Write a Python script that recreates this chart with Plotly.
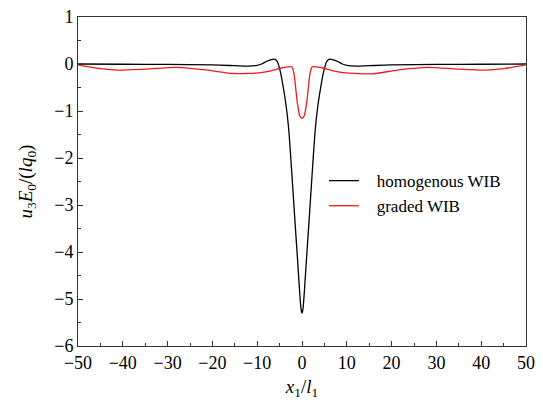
import plotly.graph_objects as go

# homogeneous WIB (black)
x_hom = [-50, -40, -30, -20, -15, -12, -10, -9, -8, -7, -6, -5.5, -5.0, -4.5, -4.0, -3.5, -3.0, -2.5,
         -2.0, -1.5, -1.0, -0.5, -0.2, 0, 0.2, 0.5, 1.0, 1.5, 2.0, 2.5, 3.0, 3.5, 4.0, 4.5, 5.0, 5.5,
         6, 7, 8, 9, 10, 12, 15, 20, 30, 40, 50]
y_hom = [0.0, -0.005, -0.01, -0.02, -0.035, -0.045, -0.03, 0.0, 0.05, 0.09, 0.10, 0.05, -0.1, -0.32,
         -0.6, -0.92, -1.35, -2.0, -2.72, -3.45, -4.15, -4.88, -5.22, -5.3, -5.22, -4.88, -4.15,
         -3.45, -2.72, -2.0, -1.35, -0.92, -0.6, -0.32, -0.1, 0.05, 0.10, 0.09, 0.05, 0.0, -0.03,
         -0.045, -0.035, -0.02, -0.01, -0.005, 0.0]

# graded WIB (red)
x_gr = [-50, -45, -41, -35, -28, -22, -15.5, -12, -8.8, -6, -4.4, -2.3, -1.8, -1.4, -1.0, -0.5, 0,
        0.5, 1.0, 1.4, 1.8, 2.3, 4.4, 6, 8.8, 12, 15.5, 22, 28, 35, 41, 45, 50]
y_gr = [-0.02, -0.1, -0.13, -0.11, -0.07, -0.12, -0.2, -0.2, -0.18, -0.12, -0.08, -0.06, -0.2,
        -0.52, -0.85, -1.1, -1.16, -1.1, -0.85, -0.52, -0.2, -0.06, -0.08, -0.12, -0.18, -0.2,
        -0.21, -0.12, -0.07, -0.11, -0.13, -0.1, -0.02]

x_ticks = [-50, -40, -30, -20, -10, 0, 10, 20, 30, 40, 50]
y_ticks = [1, 0, -1, -2, -3, -4, -5, -6]

FONT = "Times New Roman, Liberation Serif, serif"
NB = "\u00a0\u00a0\u00a0"

fig = go.Figure()
fig.add_trace(go.Scatter(x=x_hom, y=y_hom, mode="lines", name=NB + "homogenous WIB",
                         line=dict(color="black", width=1.3, shape="spline", smoothing=0.8)))
fig.add_trace(go.Scatter(x=x_gr, y=y_gr, mode="lines", name=NB + "graded WIB",
                         line=dict(color="#ee1c1c", width=1.3, shape="spline", smoothing=0.8)))

axis_common = dict(showgrid=False, zeroline=False, showline=True, linecolor="#333333",
                   linewidth=1, mirror=True, ticks="inside", ticklen=5, tickwidth=1,
                   tickcolor="#333333", automargin=False,
                   tickfont=dict(family=FONT, size=18, color="black"))

fig.update_xaxes(range=[-50, 50], tickvals=x_ticks, ticktext=[str(v).replace("-", "\u2212") for v in x_ticks],
                 minor=dict(dtick=5, ticks="inside", ticklen=3, tickcolor="#333333"),
                 title=dict(text="<i>x</i><sub>1</sub>/<i>l</i><sub>1</sub>",
                            font=dict(family=FONT, size=19, color="black"), standoff=8),
                 **axis_common)
fig.update_yaxes(range=[-6, 1], tickvals=y_ticks, ticktext=[str(v).replace("-", "\u2212") for v in y_ticks],
                 minor=dict(dtick=0.5, ticks="inside", ticklen=3, tickcolor="#333333"),
                 title=dict(text="<i>u</i><sub>3</sub><i>E</i><sub>0</sub>/(<i>lq</i><sub>0</sub>)",
                            font=dict(family=FONT, size=19, color="black"), standoff=16),
                 **axis_common)

fig.update_layout(
    width=543, height=403,
    margin=dict(l=78, r=17, t=17, b=57),
    paper_bgcolor="white", plot_bgcolor="white",
    font=dict(family=FONT, size=18, color="black"),
    showlegend=True,
    legend=dict(x=0.549, y=0.556, xanchor="left", yanchor="top", bgcolor="rgba(0,0,0,0)",
                font=dict(family=FONT, size=17, color="black"), tracegroupgap=0),
)

fig.write_html("out.html", config={"displayModeBar": False},
               post_script="document.body.style.margin='0';")
